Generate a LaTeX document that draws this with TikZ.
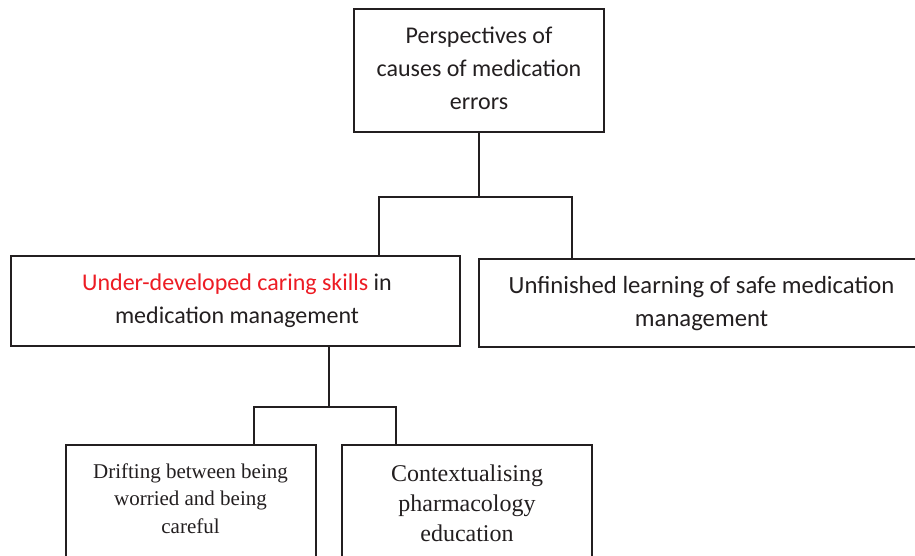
\documentclass[tikz,border=0pt]{standalone}
\usepackage{fontspec}
\setmainfont{Liberation Serif}
\newfontfamily\carlitofont{Carlito}
\definecolor{ink}{HTML}{231F20}
\definecolor{redtext}{HTML}{ED1C24}
\begin{document}
\begin{tikzpicture}[x=1pt,y=-1pt,
  boxshape/.style={draw=ink, line width=1.8pt, rectangle, inner sep=0pt, outer sep=0pt},
  sanstext/.style={text=ink, align=center, inner sep=0pt, font=\carlitofont\fontsize{24}{33}\selectfont},
  serifsmall/.style={text=ink, align=center, inner sep=0pt, font=\fontsize{21}{27.5}\selectfont},
  seriflarge/.style={text=ink, align=center, inner sep=0pt, font=\fontsize{24}{30}\selectfont},
  link/.style={draw=ink, line width=1.8pt}]
\clip (0,0) rectangle (915,555);
\fill[white] (0,0) rectangle (915,555);
% boxes
\node[boxshape, minimum width=250pt, minimum height=123pt] (topbox) at (479,70.5) {};
\node[boxshape, minimum width=449pt, minimum height=90pt] (leftbox) at (235.5,301) {};
\node[boxshape, minimum width=445pt, minimum height=88pt] (rightbox) at (701.5,303) {};
\node[boxshape, minimum width=250pt, minimum height=130pt] (drift) at (191,510) {};
\node[boxshape, minimum width=250pt, minimum height=130pt] (context) at (467,510) {};
% texts
\node[sanstext] (toptext) at (479,68.5) {Perspectives of\\causes of medication\\errors};
\node[sanstext] (lefttext) at (237,301) {\textcolor{redtext}{Under-developed caring skills} in\\medication management};
\node[sanstext, font=\carlitofont\fontsize{24.7}{32.5}\selectfont] (righttext) at (701.5,303.5) {Unfinished learning of safe medication\\management};
\node[serifsmall] (drifttext) at (190.5,498.5) {Drifting between being\\worried and being\\careful};
\node[seriflarge] (contexttext) at (467,503) {Contextualising\\pharmacology\\education};
% connectors
\coordinate (j1) at (479,197);
\coordinate (jl) at (379,197);
\coordinate (jr) at (572,197);
\coordinate (k1) at (329,407);
\coordinate (kl) at (254,407);
\coordinate (kr) at (396,407);
\draw[link] (topbox.south) -- (j1);
\draw[link] (leftbox.north -| jl) -- (jl) -- (jr) -- (rightbox.north -| jr);
\draw[link] (leftbox.south -| k1) -- (k1);
\draw[link] (drift.north -| kl) -- (kl) -- (kr) -- (context.north -| kr);
\end{tikzpicture}
\end{document}
